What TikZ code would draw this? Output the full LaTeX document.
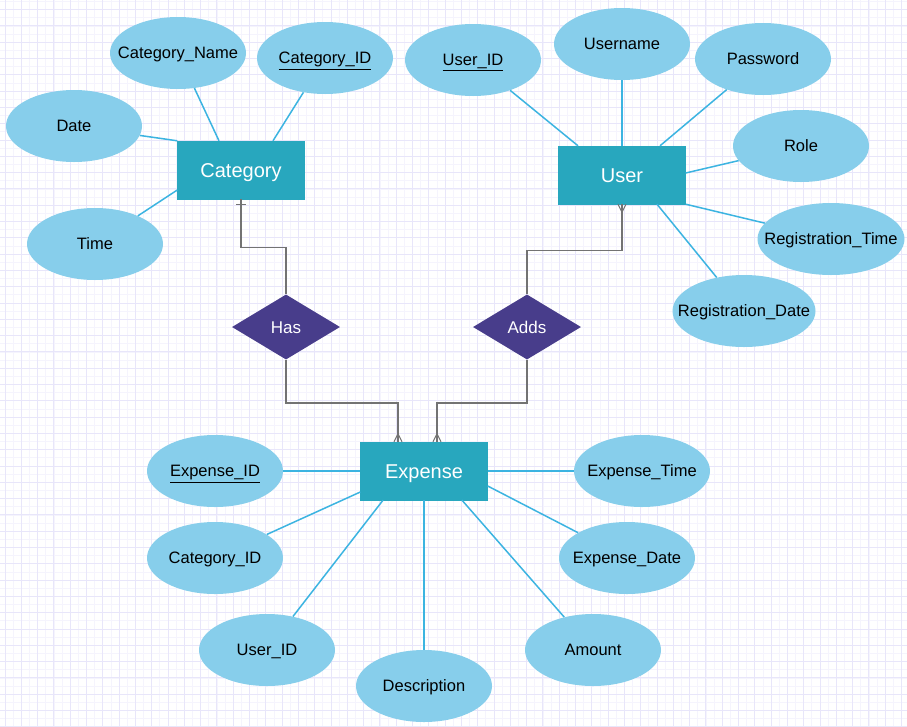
\documentclass[tikz,border=0pt]{standalone}
\usepackage{fontspec}
\setmainfont{Liberation Sans}
\usetikzlibrary{shapes.geometric,calc}
\definecolor{gridmaj}{RGB}{232,230,250}
\definecolor{gridmin}{RGB}{245,244,253}
\definecolor{entfill}{RGB}{40,167,190}
\definecolor{attfill}{RGB}{135,206,235}
\definecolor{connc}{RGB}{60,180,225}
\definecolor{relfill}{RGB}{72,61,139}
\definecolor{relline}{RGB}{115,115,115}
\newcommand\zw[1]{\makebox[0pt]{#1}}
\tikzset{
  entity/.style={rectangle, fill=entfill, draw=entfill, minimum width=127pt, minimum height=58pt, inner sep=0pt, text=white, font=\fontsize{20}{22}\selectfont, text height=14.4pt, text depth=0pt},
  attr/.style={ellipse, fill=attfill, draw=none, minimum width=136pt, minimum height=72pt, inner sep=0pt, font=\fontsize{16.5}{19}\selectfont, text height=11.9pt, text depth=0pt},
  rel/.style={diamond, fill=relfill, draw=none, minimum width=108pt, minimum height=65pt, inner sep=0pt, text=white, font=\fontsize{17}{19}\selectfont, text height=12.2pt, text depth=0pt},
  connl/.style={draw=connc, line width=1.5pt},
  relln/.style={draw=relline, line width=1.4pt},
  footl/.style={draw=relline, line width=1pt}
}
\begin{document}
\begin{tikzpicture}[x=1pt,y=-1pt]
\useasboundingbox (0,0) rectangle (907,726);
\fill[white] (0,0) rectangle (907,726);
\begin{scope}
\clip (0,0) rectangle (907,726);
\begin{scope}[shift={(5,9.6)}]
\draw[gridmin, line width=0.8pt, step=8.15pt] (-20,-20) grid (930,750);
\draw[gridmaj, line width=1pt, step=16.3pt] (-20,-20) grid (930,750);
\end{scope}
\end{scope}

% entities
\node[entity] (cat) at (241,170) {Category};
\node[entity] (user) at (622,175) {User};
\node[entity] (exp) at (424,471) {Expense};
% relationships
\node[rel] (has) at (286,327) {Has};
\node[rel] (adds) at (527,327) {Adds};
% attributes of Category
\node[attr] (date) at (74,126) {\zw{Date}};
\node[attr] (catname) at (178,53) {\zw{Category\_Name}};
\node[attr] (catid) at (325,58) {\zw{\underline{Category\_ID}}};
\node[attr] (time) at (95,244) {\zw{Time}};
% attributes of User
\node[attr] (uid) at (473,60) {\zw{\underline{User\_ID}}};
\node[attr] (uname) at (622,44) {\zw{Username}};
\node[attr] (pwd) at (763,59) {\zw{Password}};
\node[attr] (role) at (801,146) {\zw{Role}};
\node[attr, minimum width=147pt] (regtime) at (831,239) {\zw{Registration\_Time}};
\node[attr, minimum width=143pt] (regdate) at (744,311) {\zw{Registration\_Date}};
% attributes of Expense
\node[attr] (eid) at (215,471) {\zw{\underline{Expense\_ID}}};
\node[attr] (ecid) at (215,558) {\zw{Category\_ID}};
\node[attr] (euid) at (267,650) {\zw{User\_ID}};
\node[attr] (desc) at (424,686) {\zw{Description}};
\node[attr] (amt) at (593,650) {\zw{Amount}};
\node[attr] (edate) at (627,558) {\zw{Expense\_Date}};
\node[attr] (etime) at (642,471) {\zw{Expense\_Time}};

% attribute connectors
\draw[connl] (date) -- (cat.north west);
\draw[connl] (catname) -- ($(cat.north)+(-22,0)$);
\draw[connl] (catid) -- ($(cat.north)+(32,0)$);
\draw[connl] (time) -- ($(cat.west)+(0,20)$);

\draw[connl] (uid) -- ($(user.north)+(-44,0)$);
\draw[connl] (uname) -- (user.north);
\draw[connl] (pwd) -- ($(user.north)+(38,0)$);
\draw[connl] (role) -- ($(user.east)+(0,-2)$);
\draw[connl] (regtime) -- (user.south east);
\draw[connl] (regdate) -- ($(user.south)+(35,0)$);

\draw[connl] (eid) -- (exp.west);
\draw[connl] (ecid) -- ($(exp.west)+(0,21)$);
\draw[connl] (euid) -- ($(exp.south)+(-41,0)$);
\draw[connl] (desc) -- (exp.south);
\draw[connl] (amt) -- ($(exp.south)+(38,0)$);
\draw[connl] (edate) -- ($(exp.east)+(0,15)$);
\draw[connl] (etime) -- (exp.east);

% relationship connectors
\draw[relln] (cat.south) |- ($(has.north)+(0,-47)$) -- (has.north);
\draw[footl] ($(cat.south)+(-5,5)$) -- ($(cat.south)+(5,5)$);

\draw[relln] (has.south) |- ($(exp.north)+(-26,-39)$) -- ($(exp.north)+(-26,0)$);
\draw[footl] ($(exp.north)+(-26,-8)$) -- ($(exp.north)+(-30,0)$);
\draw[footl] ($(exp.north)+(-26,-8)$) -- ($(exp.north)+(-22,0)$);

\draw[relln] (adds.south) |- ($(exp.north)+(13,-39)$) -- ($(exp.north)+(13,0)$);
\draw[footl] ($(exp.north)+(13,-8)$) -- ($(exp.north)+(9,0)$);
\draw[footl] ($(exp.north)+(13,-8)$) -- ($(exp.north)+(17,0)$);

\draw[relln] (adds.north) |- ($(user.south)+(0,46)$) -- (user.south);
\draw[footl] ($(user.south)+(0,8)$) -- ($(user.south)+(-4,0)$);
\draw[footl] ($(user.south)+(0,8)$) -- ($(user.south)+(4,0)$);
\end{tikzpicture}
\end{document}
